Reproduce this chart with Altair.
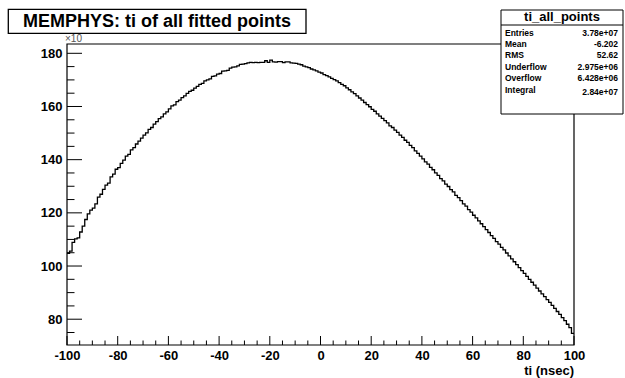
import altair as alt
import pandas as pd

FONT = "Liberation Sans"

# ti histogram: entries per 1 ns bin (in units of 10), bins from -100 ns to 100 ns
ti_min, ti_max, bin_width = -100, 100, 1
counts_neg = [
    104.8, 105.6, 108.9, 110.2, 110.6, 112.8, 115.0, 117.5, 119.6, 121.0,
    121.8, 123.4, 125.9, 127.0, 128.8, 130.4, 131.2, 133.5, 134.6, 136.4,
    137.0, 138.6, 139.8, 141.3, 142.0, 143.7, 144.5, 145.9, 147.0, 148.1,
    149.2, 150.1, 151.4, 152.1, 153.4, 154.3, 155.4, 156.1, 157.2, 158.0,
    159.1, 160.2, 160.6, 161.8, 162.4, 163.3, 164.0, 164.9, 165.7, 166.1,
    166.9, 167.6, 168.3, 168.7, 169.6, 170.0, 170.4, 171.3, 171.5, 172.2,
    172.4, 173.3, 173.4, 173.6, 174.4, 174.8, 174.9, 175.3, 175.8, 175.9,
    176.1, 176.4, 176.6, 176.5, 176.6, 176.5, 176.6, 176.6, 177.2, 176.6,
    177.4, 176.8, 176.7, 176.9, 176.9, 176.5, 176.8, 176.8, 176.4, 176.3,
    176.2, 175.9, 175.7, 175.2, 174.9, 174.6, 174.1, 173.8, 173.4, 172.9,
]
counts_pos = [
    172.6, 172.0, 171.6, 171.1, 170.6, 170.1, 169.6, 169.0, 168.3, 167.8,
    167.0, 166.3, 165.5, 164.8, 164.0, 163.2, 162.4, 161.5, 160.7, 159.9,
    158.9, 158.2, 157.2, 156.4, 155.5, 154.7, 153.8, 152.7, 152.1, 151.1,
    150.3, 149.2, 148.4, 147.3, 146.5, 145.4, 144.5, 143.3, 142.4, 141.3,
    140.3, 139.2, 138.3, 137.1, 136.2, 135.0, 134.1, 132.9, 132.0, 130.8,
    129.9, 128.7, 127.9, 126.6, 125.7, 124.6, 123.4, 122.5, 121.2, 120.3,
    119.1, 118.1, 117.0, 115.9, 114.8, 113.7, 112.6, 111.4, 110.4, 109.2,
    108.2, 107.0, 106.1, 104.9, 103.8, 102.7, 101.6, 100.5, 99.4, 98.3,
    97.2, 96.1, 95.0, 93.9, 92.8, 91.7, 90.6, 89.5, 88.5, 87.4,
    86.3, 85.2, 84.1, 82.9, 81.8, 80.6, 79.5, 78.1, 76.8, 74.7,
]
counts = counts_neg + counts_pos

# statistics box
stats_title = "ti_all_points"
stat_names = ["Entries", "Mean", "RMS", "Underflow", "Overflow", "Integral"]
stat_values = ["3.78e+07", "-6.202", "52.62", "2.975e+06", "6.428e+06", "2.84e+07"]

# axis ticks
x_major = list(range(-100, 101, 20))
x_minor = [v for v in range(-100, 101, 5) if v not in x_major]
y_major = list(range(80, 181, 20))
y_minor = [v for v in range(75, 181, 5) if v not in y_major]

W, H = 507, 301

# step outline: lower edge of every bin, then the upper edge of the last one
edges = [ti_min + i * bin_width for i in range(len(counts))]
hist = pd.DataFrame({"ti": edges + [ti_max], "n": counts + [counts[-1]]})

xscale = alt.Scale(domain=[ti_min, ti_max], nice=False, zero=False)
yscale = alt.Scale(domain=[70.3, 183.5], nice=False, zero=False)

lab = dict(labelFont=FONT, labelFontSize=13, labelFontWeight="bold", labelColor="black",
           ticks=False, domain=False, grid=False, title=None,
           labelOverlap=False, labelFlush=False, labelBound=False,
           labelExpr="'' + datum.value")
xaxis = alt.Axis(values=x_major, labelPadding=4, **lab)
yaxis = alt.Axis(values=y_major, labelPadding=5, **lab)

line = alt.Chart(hist).mark_line(interpolate="step-after", color="black", strokeWidth=1.3).encode(
    x=alt.X("ti:Q", scale=xscale, axis=xaxis),
    y=alt.Y("n:Q", scale=yscale, axis=yaxis),
)


def one(**cols):
    return alt.Chart(pd.DataFrame({k: [v] for k, v in cols.items()}))


def box(x1, x2, y1, y2, fill="white", width=1.0):
    return one(a=0).mark_rect(fill=fill, stroke="black", strokeWidth=width).encode(
        x=alt.value(x1), x2=alt.value(x2), y=alt.value(y1), y2=alt.value(y2))


def note(text, x, y, size, align="left", weight="bold", color="black", baseline="middle"):
    return one(t=text).mark_text(align=align, baseline=baseline, font=FONT, fontSize=size,
                                 fontWeight=weight, color=color).encode(
        x=alt.value(x), y=alt.value(y), text="t:N")


frame = one(a=0).mark_rect(fill=None, stroke="black", strokeWidth=1.2).encode(
    x=alt.value(0), x2=alt.value(W), y=alt.value(0), y2=alt.value(H))

xt_major = alt.Chart(pd.DataFrame({"ti": x_major})).mark_rule(color="black").encode(
    x=alt.X("ti:Q", scale=xscale, axis=xaxis), y=alt.value(H), y2=alt.value(H - 9))
xt_minor = alt.Chart(pd.DataFrame({"ti": x_minor})).mark_rule(color="black").encode(
    x=alt.X("ti:Q", scale=xscale, axis=xaxis), y=alt.value(H), y2=alt.value(H - 4.5))
yt_major = alt.Chart(pd.DataFrame({"n": y_major})).mark_rule(color="black").encode(
    y=alt.Y("n:Q", scale=yscale, axis=yaxis), x=alt.value(0), x2=alt.value(15))
yt_minor = alt.Chart(pd.DataFrame({"n": y_minor})).mark_rule(color="black").encode(
    y=alt.Y("n:Q", scale=yscale, axis=yaxis), x=alt.value(0), x2=alt.value(7.5))

layers = [frame, line, xt_major, xt_minor, yt_major, yt_minor]

# title box
layers += [box(-58.7, 239, -34.7, -10.7, width=1.3),
           note("MEMPHYS: ti of all fitted points", 90, -22.3, 18, align="center")]

# exponent marker of the y axis
layers += [note("×10", -2, -5.5, 10, weight="normal", color="#555555")]

# statistics box
sx1, sx2, sy1, sy2 = 434, 556, -34, 70
layers += [box(sx1, sx2, sy1, sy2),
           one(a=0).mark_rule(color="black").encode(
               x=alt.value(sx1), x2=alt.value(sx2), y=alt.value(-19), y2=alt.value(-19)),
           note(stats_title, (sx1 + sx2) / 2, -27, 13, align="center")]
for i, (name, val) in enumerate(zip(stat_names, stat_values)):
    yy = -11.5 + i * 11.4
    dv = 2.5 if name == "Integral" else 0
    layers += [note(name, sx1 + 4, yy, 8.5), note(val, sx2 - 5, yy + dv, 8.5, align="right")]

# axis title
layers += [note("ti  (nsec)", W, 327, 13, align="right")]

chart = alt.layer(*layers).properties(
    width=W, height=H,
    autosize=alt.AutoSizeParams(type="none"),
    padding={"left": 67, "top": 44, "right": 51, "bottom": 33},
    background="white",
).configure_view(stroke=None)

chart.save("out.html", embed_options={"renderer": "svg", "actions": False})
